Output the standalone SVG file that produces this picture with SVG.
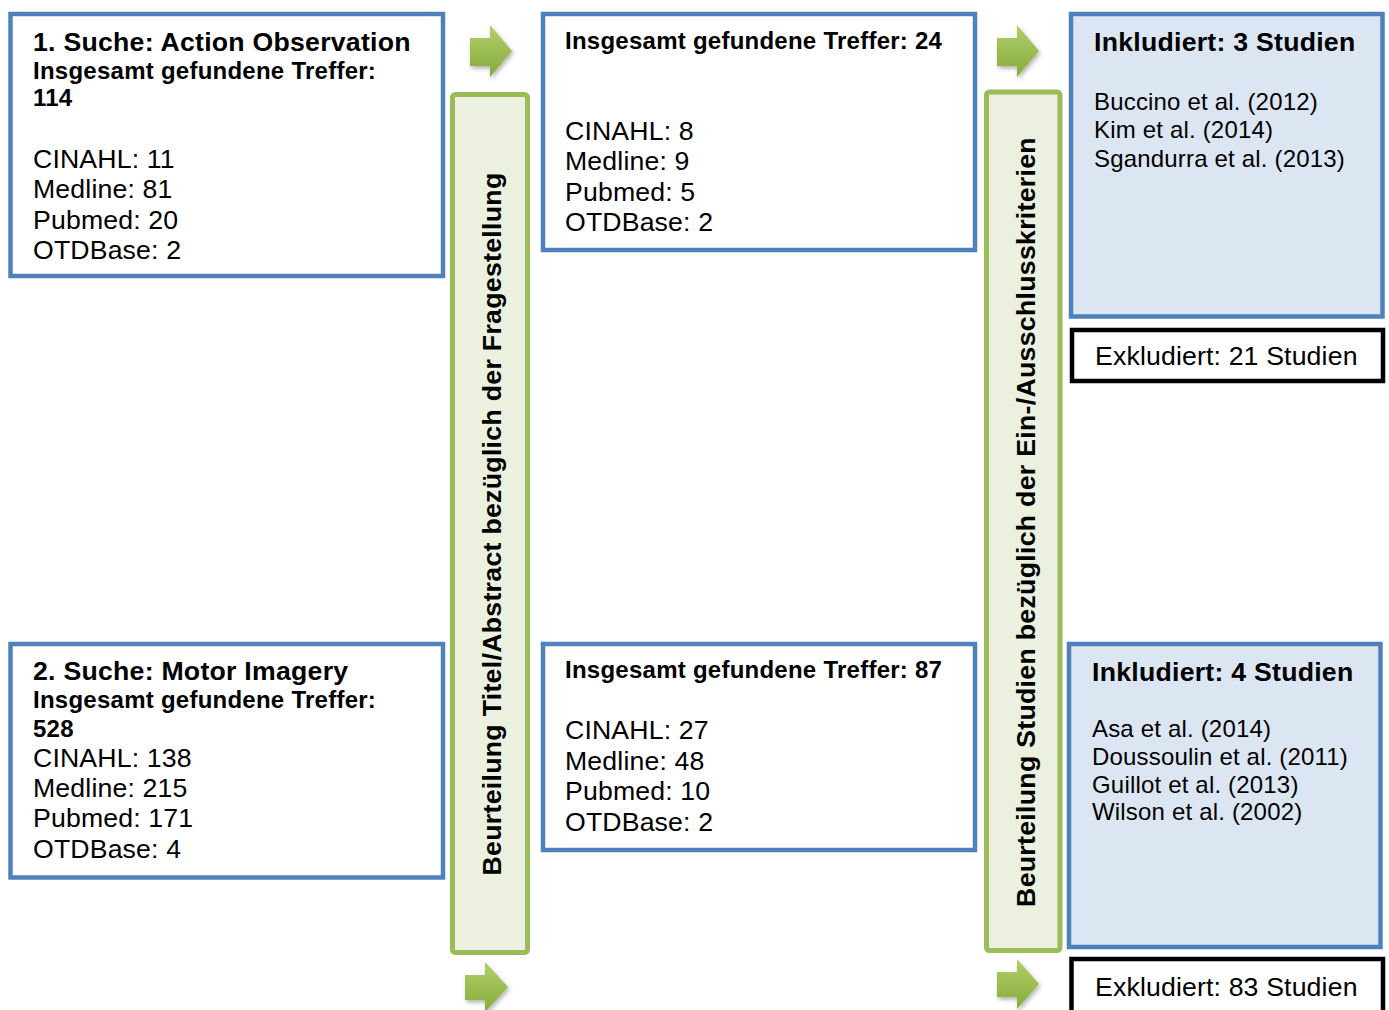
<svg xmlns="http://www.w3.org/2000/svg" width="1389" height="1010" viewBox="0 0 1389 1010">
<defs>
<linearGradient id="ag" x1="0" y1="0" x2="0" y2="1">
<stop offset="0" stop-color="#b2cf6c"/>
<stop offset="1" stop-color="#86ab3a"/>
</linearGradient>
<filter id="sh" x="-30%" y="-30%" width="160%" height="160%">
<feDropShadow dx="1.5" dy="2.5" stdDeviation="2" flood-color="#000" flood-opacity="0.3"/>
</filter>
<style>
.blue{fill:#fff;stroke:#4f81bd;stroke-width:4.5}
.bluef{fill:#dce6f2;stroke:#4f81bd;stroke-width:4.5}
.green{fill:#ebf1de;stroke:#9bbb59;stroke-width:5}
.black{fill:#fff;stroke:#000;stroke-width:4.5}
.arrow{fill:url(#ag);filter:url(#sh)}
text{font-family:"Liberation Sans",Arial,sans-serif;fill:#000}
.t20b{font-size:26.67px;font-weight:bold;letter-spacing:0.25px}
.t18b{font-size:24px;font-weight:bold;letter-spacing:0.25px}
.t20{font-size:26.67px;letter-spacing:0.15px}
.t18{font-size:24px;letter-spacing:0.18px}
.vt{font-size:26.67px;font-weight:bold;letter-spacing:0.3px}
</style>
</defs>
<g id="connectors">
<path class="arrow" d="M470,38 H490 V25 L512,51 L490,77 V66 H470 Z"/>
<path class="arrow" d="M465,975 H485 V962 L508,987 L485,1012 V1000 H465 Z"/>
<path class="arrow" d="M997,38 H1017 V25 L1039,51 L1017,77 V66 H997 Z"/>
<path class="arrow" d="M997,972 H1017 V959 L1039,984 L1017,1009 V997 H997 Z"/>
</g>
<g id="search1">
<rect class="blue" x="10.5" y="14" width="432.5" height="262"/>
<text class="t20b" x="33" y="51">1. Suche: Action Observation</text>
<text class="t18b" x="33" y="79">Insgesamt gefundene Treffer:</text>
<text class="t18b" x="33" y="106">114</text>
<text class="t20" x="33" y="168">CINAHL: 11</text>
<text class="t20" x="33" y="198">Medline: 81</text>
<text class="t20" x="33" y="229">Pubmed: 20</text>
<text class="t20" x="33" y="259">OTDBase: 2</text>
</g>
<g id="search2">
<rect class="blue" x="10.5" y="644" width="432.5" height="233.5"/>
<text class="t20b" x="33" y="680">2. Suche: Motor Imagery</text>
<text class="t18b" x="33" y="708">Insgesamt gefundene Treffer:</text>
<text class="t18b" x="33" y="737">528</text>
<text class="t20" x="33" y="767">CINAHL: 138</text>
<text class="t20" x="33" y="797">Medline: 215</text>
<text class="t20" x="33" y="827">Pubmed: 171</text>
<text class="t20" x="33" y="858">OTDBase: 4</text>
</g>
<g id="screen1">
<rect class="green" x="452.5" y="94.5" width="75" height="858" rx="3"/>
<text class="vt" text-anchor="middle" transform="translate(501,524) rotate(-90)">Beurteilung Titel/Abstract bezüglich der Fragestellung</text>
</g>
<g id="result1">
<rect class="blue" x="543" y="14" width="432" height="236"/>
<text class="t18b" x="565" y="49">Insgesamt gefundene Treffer: 24</text>
<text class="t20" x="565" y="140">CINAHL: 8</text>
<text class="t20" x="565" y="170">Medline: 9</text>
<text class="t20" x="565" y="201">Pubmed: 5</text>
<text class="t20" x="565" y="231">OTDBase: 2</text>
</g>
<g id="result2">
<rect class="blue" x="543" y="644" width="432" height="206"/>
<text class="t18b" x="565" y="678">Insgesamt gefundene Treffer: 87</text>
<text class="t20" x="565" y="739">CINAHL: 27</text>
<text class="t20" x="565" y="770">Medline: 48</text>
<text class="t20" x="565" y="800">Pubmed: 10</text>
<text class="t20" x="565" y="831">OTDBase: 2</text>
</g>
<g id="screen2">
<rect class="green" x="986.5" y="92" width="73.5" height="858.5" rx="3"/>
<text class="vt" text-anchor="middle" transform="translate(1035,522) rotate(-90)">Beurteilung Studien bezüglich der Ein-/Ausschlusskriterien</text>
</g>
<g id="included1">
<rect class="bluef" x="1071" y="14" width="311.5" height="302.5"/>
<text class="t20b" x="1094" y="51">Inkludiert: 3 Studien</text>
<text class="t18" x="1094" y="110">Buccino et al. (2012)</text>
<text class="t18" x="1094" y="138">Kim et al. (2014)</text>
<text class="t18" x="1094" y="166.5">Sgandurra et al. (2013)</text>
</g>
<g id="excluded1">
<rect class="black" x="1072" y="330" width="311" height="51"/>
<text class="t20" x="1095" y="365">Exkludiert: 21 Studien</text>
</g>
<g id="included2">
<rect class="bluef" x="1069" y="644" width="311.5" height="303"/>
<text class="t20b" x="1092" y="681">Inkludiert: 4 Studien</text>
<text class="t18" x="1092" y="737">Asa et al. (2014)</text>
<text class="t18" x="1092" y="765">Doussoulin et al. (2011)</text>
<text class="t18" x="1092" y="793">Guillot et al. (2013)</text>
<text class="t18" x="1092" y="820">Wilson et al. (2002)</text>
</g>
<g id="excluded2">
<rect class="black" x="1071.5" y="959" width="311.5" height="70"/>
<text class="t20" x="1095" y="996">Exkludiert: 83 Studien</text>
</g>
</svg>
